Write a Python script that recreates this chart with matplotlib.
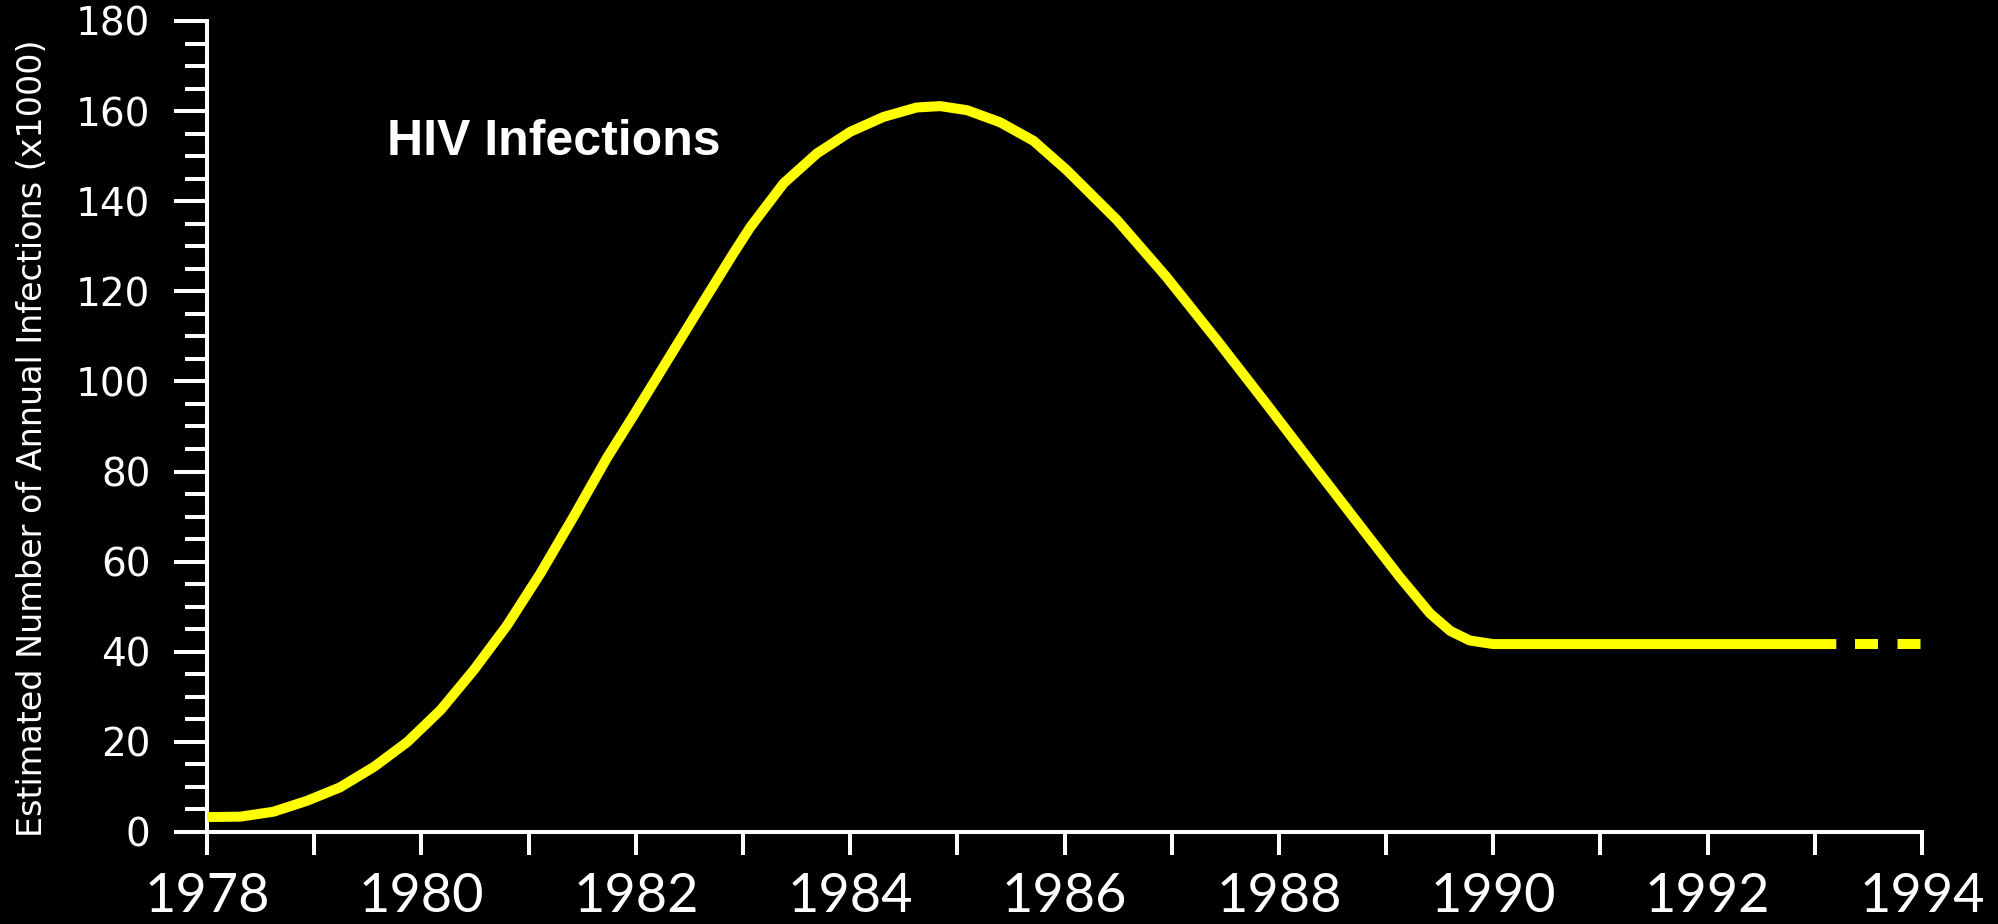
import numpy as np
import matplotlib.pyplot as plt
from matplotlib.ticker import MultipleLocator

# estimated annual HIV infections (x1000)
years = [1978.00, 1978.31, 1978.62, 1978.93, 1979.24, 1979.56, 1979.87,
         1980.18, 1980.49, 1980.80, 1981.11, 1981.42, 1981.73, 1981.98,
         1982.29, 1982.60, 1982.91, 1983.07, 1983.38, 1983.69, 1984.00,
         1984.31, 1984.62, 1984.84, 1985.09, 1985.40, 1985.71, 1986.02,
         1986.49, 1986.95, 1987.42, 1987.89, 1988.35, 1988.82, 1989.13,
         1989.41, 1989.60, 1989.78, 1990.00, 1993.20]
infections = [3.3, 3.4, 4.5, 6.9, 9.9, 14.5, 20.0,
              27.1, 36.0, 45.9, 57.4, 70.0, 83.0, 92.5,
              104.5, 116.5, 128.4, 134.3, 144.0, 150.6, 155.4,
              158.7, 160.8, 161.1, 160.2, 157.5, 153.4, 146.9,
              135.8, 123.2, 109.2, 94.8, 80.5, 66.0, 56.5,
              48.5, 44.6, 42.5, 41.7, 41.7]

# projected part (dashed)
proj_years = [1993.37, 1994.0]
proj_vals = [41.7, 41.7]

xtick_years = [1978, 1980, 1982, 1984, 1986, 1988, 1990, 1992, 1994]
yticks = [0, 20, 40, 60, 80, 100, 120, 140, 160, 180]

fig = plt.figure(figsize=(19.99, 9.24), dpi=100, facecolor='black')
ax = fig.add_axes([0.1036, 0.0996, 0.8579, 0.8777], facecolor='black')

ax.plot(years, infections, color='#ffff00', lw=7.2, solid_capstyle='butt',
        solid_joinstyle='round', clip_on=False, zorder=3)
ax.plot(proj_years, proj_vals, color='#ffff00', lw=7.2, dashes=(2.3, 1.95),
        dash_capstyle='butt', clip_on=False, zorder=3)

ax.set_xlim(1978, 1994)
ax.set_ylim(0, 180)

for s in ['top', 'right']:
    ax.spines[s].set_visible(False)
for s in ['left', 'bottom']:
    ax.spines[s].set_color('white')
    ax.spines[s].set_linewidth(2.9)

ax.set_xticks(xtick_years)
ax.xaxis.set_minor_locator(MultipleLocator(1))
ax.set_yticks(yticks)
ax.yaxis.set_minor_locator(MultipleLocator(5))

ax.tick_params(axis='x', which='both', direction='out', length=16.5, width=2.9,
               color='white', labelcolor='white', pad=12)
ax.tick_params(axis='y', which='major', direction='out', length=23.8, width=2.9,
               color='white', labelcolor='white', pad=17)
ax.tick_params(axis='y', which='minor', direction='out', length=15.6, width=2.9,
               color='white')

for lab in ax.get_xticklabels():
    lab.set_fontfamily('Lato')
    lab.set_fontsize(39)
for lab in ax.get_yticklabels():
    lab.set_fontfamily('DejaVu Sans')
    lab.set_fontsize(28)

ax.set_ylabel('Estimated Number of Annual Infections (x1000)', color='white',
              fontsize=24, family='DejaVu Sans')
ax.yaxis.set_label_coords(-0.092, 0.485)

ax.text(0.105, 0.835, 'HIV Infections', transform=ax.transAxes, color='white',
        fontsize=36, fontweight='bold', family='Liberation Sans', va='baseline')

fig.savefig('out.png', dpi=100, facecolor='black')
